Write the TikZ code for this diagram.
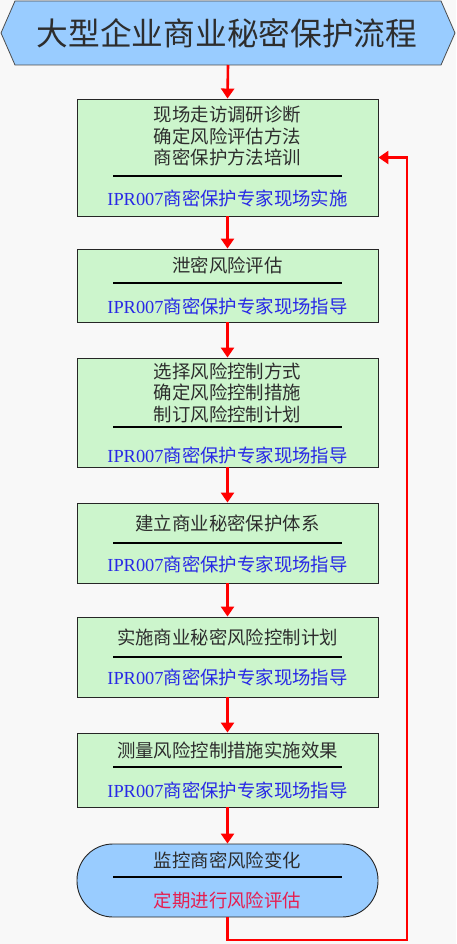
\documentclass[tikz,border=0pt]{standalone}
\usepackage{fontspec}
\setmainfont{Liberation Serif}
\newfontfamily\cjk{Noto Sans CJK SC}
\usetikzlibrary{arrows.meta}
\definecolor{bgc}{RGB}{248,248,248}
\definecolor{boxg}{RGB}{204,245,204}
\definecolor{headb}{RGB}{153,204,255}
\definecolor{txtd}{RGB}{45,45,45}
\definecolor{txtb}{RGB}{40,40,230}
\definecolor{txtr}{RGB}{230,30,80}
\tikzset{
  stepbox/.style={draw=black!85, line width=0.9pt, fill=boxg, minimum width=301pt, inner sep=0pt},
  termbox/.style={draw=black!85, line width=0.9pt, fill=headb, minimum width=301pt, inner sep=0pt, rounded corners=36pt},
  maintext/.style={font=\cjk\fontsize{18.4}{21.5}\selectfont, text=txtd, align=center, inner sep=0pt},
  bluetext/.style={font=\fontsize{18.4}{21.5}\selectfont, text=txtb, inner sep=0pt},
  redtext/.style={font=\cjk\fontsize{18.4}{21.5}\selectfont, text=txtr, inner sep=0pt},
  divider/.style={draw=black, line width=1.3pt},
  flow/.style={draw=red, line width=2.6pt, -{Triangle[length=10pt,width=13pt]}},
}
\begin{document}
\begin{tikzpicture}[x=1pt,y=-1pt]
\fill[bgc] (0,0) rectangle (456,944);
\useasboundingbox (0,0) rectangle (456,944);
% header
\draw[draw=black!70, line width=0.8pt, fill=headb] (1,33) -- (15,1) -- (441,1) -- (455,33) -- (441,65) -- (15,65) -- cycle;
\node[font=\cjk\fontsize{31.7}{34}\selectfont, text=txtd, inner sep=0pt] (title) at (227,33) {大型企业商业秘密保护流程};
\coordinate (hb) at (228,65);
% boxes
\node[stepbox, minimum height=117pt] (b1) at (227.5,157.5) {};
\node[stepbox, minimum height=73pt] (b2) at (227.5,285.5) {};
\node[stepbox, minimum height=109pt] (b3) at (227.5,412.5) {};
\node[stepbox, minimum height=80pt] (b4) at (227.5,543) {};
\node[stepbox, minimum height=80pt] (b5) at (227.5,657) {};
\node[stepbox, minimum height=74pt] (b6) at (227.5,770) {};
\node[termbox, minimum height=73pt] (term) at (227.5,880.5) {};
% texts
\node[maintext] (t1) at (227.5,136.5) {现场走访调研诊断\\确定风险评估方法\\商密保护方法培训};
\draw[divider] (113,176) -- (342,176);
\node[bluetext] (u1) at (227.5,198) {IPR007{\cjk 商密保护专家现场实施}};
\node[maintext] (t2) at (227.5,265) {泄密风险评估};
\draw[divider] (113,283) -- (342,283);
\node[bluetext] (u2) at (227.5,306) {IPR007{\cjk 商密保护专家现场指导}};
\node[maintext] (t3) at (227.5,392.5) {选择风险控制方式\\确定风险控制措施\\制订风险控制计划};
\draw[divider] (113,427) -- (342,427);
\node[bluetext] (u3) at (227.5,455) {IPR007{\cjk 商密保护专家现场指导}};
\node[maintext] (t4) at (227.5,523) {建立商业秘密保护体系};
\draw[divider] (113,543) -- (342,543);
\node[bluetext] (u4) at (227.5,564) {IPR007{\cjk 商密保护专家现场指导}};
\node[maintext] (t5) at (227.5,637) {实施商业秘密风险控制计划};
\draw[divider] (113,657) -- (342,657);
\node[bluetext] (u5) at (227.5,677) {IPR007{\cjk 商密保护专家现场指导}};
\node[maintext] (t6) at (227.5,750) {测量风险控制措施实施效果};
\draw[divider] (113,767) -- (342,767);
\node[bluetext] (u6) at (227.5,790) {IPR007{\cjk 商密保护专家现场指导}};
\node[maintext] (t7) at (227.5,860) {监控商密风险变化};
\draw[divider] (113,877) -- (342,877);
\node[redtext] (u7) at (227.5,900) {定期进行风险评估};
% arrows
\draw[flow] (hb) -- (b1.north);
\draw[flow] (b1.south) -- (b2.north);
\draw[flow] (b2.south) -- (b3.north);
\draw[flow] (b3.south) -- (b4.north);
\draw[flow] (b4.south) -- (b5.north);
\draw[flow] (b5.south) -- (b6.north);
\draw[flow] (b6.south) -- (term.north);
\coordinate (fb1) at (407,940);
\draw[flow] (term.south) |- (fb1) |- (b1.east);
\end{tikzpicture}
\end{document}
